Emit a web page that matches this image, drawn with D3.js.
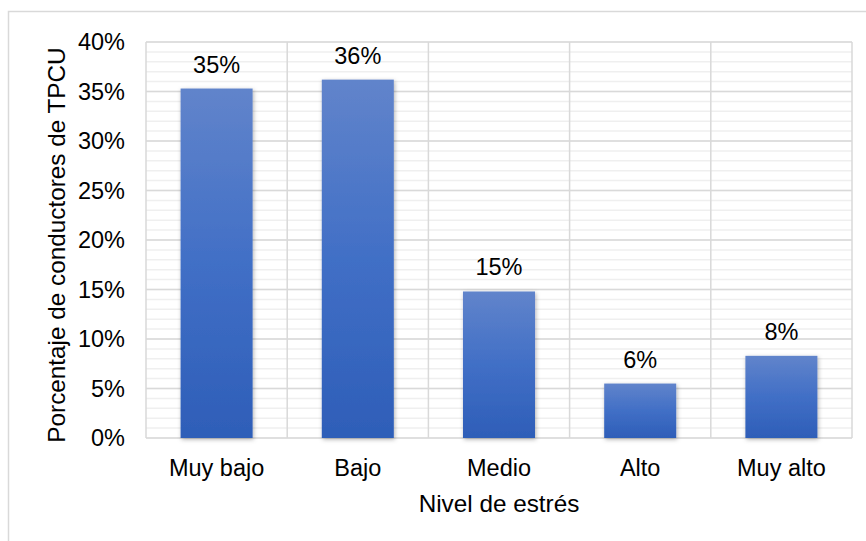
<!DOCTYPE html>
<html>
<head>
<meta charset="utf-8">
<script src="https://cdn.jsdelivr.net/npm/d3@7"></script>
<style>
  html, body { margin: 0; padding: 0; background: #fff; }
  svg { display: block; font-family: "Liberation Sans", Arial, sans-serif; }
</style>
</head>
<body>
<svg id="chart" width="866" height="541"></svg>
<script>
// Stress level categories and share of drivers in each
const categories = ["Muy bajo", "Bajo", "Medio", "Alto", "Muy alto"];
const values = [0.353, 0.362, 0.148, 0.055, 0.083];
const yTicks = [0, 0.05, 0.10, 0.15, 0.20, 0.25, 0.30, 0.35, 0.40];
const minorTicks = d3.range(0, 0.401, 0.01);
const xTitle = "Nivel de estrés";
const yTitle = "Porcentaje de conductores de TPCU";

const svg = d3.select("#chart");
const W = 866, H = 541;
const m = { left: 146, right: 14, top: 42, bottom: 103 };
const iw = W - m.left - m.right, ih = H - m.top - m.bottom;
const labelSize = 23.5, titleSize = 24.3;

// Outer chart frame
svg.append("rect")
  .attr("x", 8.5).attr("y", 11.5)
  .attr("width", W + 10).attr("height", H + 10)
  .attr("fill", "#fff").attr("stroke", "#d9d9d9").attr("stroke-width", 1.5);

const defs = svg.append("defs");
const grad = defs.append("linearGradient").attr("id", "barGrad")
  .attr("x1", 0).attr("y1", 0).attr("x2", 0).attr("y2", 1);
grad.append("stop").attr("offset", "0%").attr("stop-color", "#6184cb");
grad.append("stop").attr("offset", "50%").attr("stop-color", "#416fc6");
grad.append("stop").attr("offset", "100%").attr("stop-color", "#2e5eb8");
const shadow = defs.append("filter").attr("id", "shadow")
  .attr("x", "-20%").attr("y", "-10%").attr("width", "140%").attr("height", "130%");
shadow.append("feDropShadow").attr("dx", 1).attr("dy", 1.5)
  .attr("stdDeviation", 2).attr("flood-color", "#000").attr("flood-opacity", 0.3);

const x = d3.scaleBand().domain(categories).range([0, iw]).paddingInner(0.49).paddingOuter(0.245);
const xGrid = d3.scaleBand().domain(categories).range([0, iw]);
const y = d3.scaleLinear().domain([0, 0.40]).range([ih, 0]);

const g = svg.append("g").attr("transform", `translate(${m.left},${m.top})`);

// Minor horizontal grid
g.append("g").selectAll("line").data(minorTicks).join("line")
  .attr("x1", 0).attr("x2", iw)
  .attr("y1", d => y(d)).attr("y2", d => y(d))
  .attr("stroke", "#efefef").attr("stroke-width", 1.5);

// Major horizontal grid
g.append("g").selectAll("line").data(yTicks).join("line")
  .attr("x1", 0).attr("x2", iw)
  .attr("y1", d => y(d)).attr("y2", d => y(d))
  .attr("stroke", "#d9d9d9").attr("stroke-width", 1.5);

// Vertical grid at category boundaries
const bounds = categories.map(c => xGrid(c)).concat([iw]);
g.append("g").selectAll("line").data(bounds).join("line")
  .attr("x1", d => d).attr("x2", d => d)
  .attr("y1", 0).attr("y2", ih)
  .attr("stroke", "#d9d9d9").attr("stroke-width", 1.5);

// Bars
g.append("g").selectAll("rect").data(values).join("rect")
  .attr("x", (d, i) => x(categories[i]))
  .attr("y", d => y(d))
  .attr("width", x.bandwidth())
  .attr("height", d => ih - y(d))
  .attr("fill", "url(#barGrad)")
  .attr("filter", "url(#shadow)");

// Value labels
const fmt = d3.format(".0%");
g.append("g").selectAll("text").data(values).join("text")
  .attr("x", (d, i) => x(categories[i]) + x.bandwidth() / 2)
  .attr("y", d => y(d) - 16)
  .attr("text-anchor", "middle")
  .attr("font-size", labelSize).attr("fill", "#000")
  .text(d => fmt(d));

// Y axis tick labels
const yAxis = d3.axisLeft(y).tickValues(yTicks).tickFormat(d3.format(".0%")).tickSize(0).tickPadding(21);
const ya = g.append("g").call(yAxis);
ya.select(".domain").remove();
ya.selectAll("text").attr("font-size", labelSize).attr("fill", "#000")
  .attr("font-family", "'Liberation Sans', Arial, sans-serif");

// X axis category labels
const xAxis = d3.axisBottom(x).tickSize(0).tickPadding(21);
const xa = g.append("g").attr("transform", `translate(0,${ih})`).call(xAxis);
xa.select(".domain").remove();
xa.selectAll("text").attr("font-size", labelSize).attr("fill", "#000")
  .attr("font-family", "'Liberation Sans', Arial, sans-serif");

// Axis titles
svg.append("text")
  .attr("x", m.left + iw / 2).attr("y", 512)
  .attr("text-anchor", "middle").attr("font-size", titleSize).attr("fill", "#000")
  .text(xTitle);

svg.append("text")
  .attr("transform", `translate(65,245) rotate(-90)`)
  .attr("text-anchor", "middle").attr("font-size", titleSize).attr("fill", "#000")
  .text(yTitle);
</script>
</body>
</html>
